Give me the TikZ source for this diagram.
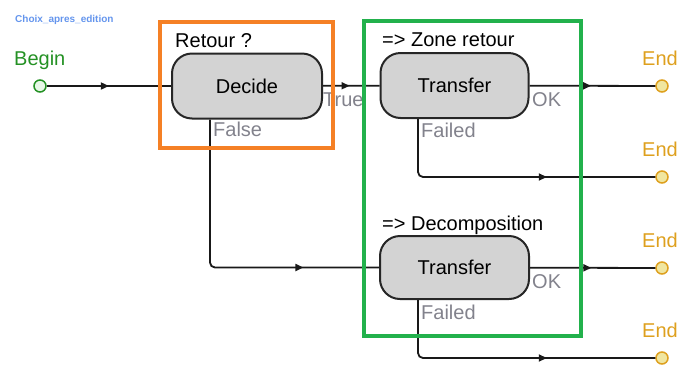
\documentclass[tikz,border=0pt]{standalone}
\usepackage{fontspec}
\setmainfont{Liberation Sans}
\usetikzlibrary{arrows.meta,decorations.markings}
\definecolor{titleblue}{RGB}{100,149,237}
\definecolor{begingreen}{RGB}{36,145,36}
\definecolor{beginfill}{RGB}{232,248,232}
\definecolor{endgold}{RGB}{222,160,30}
\definecolor{endfill}{RGB}{240,230,160}
\definecolor{boxorange}{RGB}{245,128,37}
\definecolor{boxgreen}{RGB}{34,177,76}
\definecolor{lblgray}{RGB}{130,130,140}
\definecolor{nodegray}{RGB}{211,211,211}
\tikzset{
  conn/.style={draw=black!90, line width=1.8pt, rounded corners=5pt, postaction={decorate},
    decoration={markings, mark=at position #1 with {\arrow{Triangle[length=8pt,width=7pt]}}}},
  conn/.default=0.5,
  actbox/.style={draw=black!85, line width=2pt, fill=nodegray, rounded corners=20pt,
    font=\fontsize{20}{24}\selectfont, inner sep=0pt},
  startpt/.style={circle, draw=begingreen, fill=beginfill, line width=1.5pt, minimum size=12pt, inner sep=0pt},
  endpt/.style={circle, draw=endgold, fill=endfill, line width=1.5pt, minimum size=12pt, inner sep=0pt},
  lbl/.style={anchor=base west, inner sep=0pt, font=\fontsize{20}{24}\selectfont},
  grouprect/.style={line width=4pt},
}
\begin{document}
\begin{tikzpicture}[x=1pt,y=-1pt]
\useasboundingbox (0,0) rectangle (678,365);
% title
\node[anchor=base west, inner sep=0pt, font=\fontsize{10}{12}\selectfont\bfseries, text=titleblue] (title) at (15,22.5) {Choix\_apres\_edition};
% begin
\node[lbl, text=begingreen] (beginlbl) at (14,65) {Begin};
\node[startpt] (begin) at (40,86) {};
% nodes
\node[actbox, minimum width=150pt, minimum height=65pt] (decide) at (247,86) {Decide};
\node[actbox, minimum width=148pt, minimum height=65pt] (t1) at (454.5,85.5) {Transfer};
\node[actbox, minimum width=149pt, minimum height=63pt] (t2) at (454.5,267.5) {Transfer};
% group titles
\node[lbl] (rt) at (175,47.5) {Retour ?};
\node[lbl] (zr) at (382,46.7) {=> Zone retour};
\node[lbl] (dc) at (382,230.7) {=> Decomposition};
% ends
\node[endpt] (e1) at (662,86) {};
\node[endpt] (e2) at (662,177) {};
\node[endpt] (e3) at (662,268) {};
\node[endpt] (e4) at (662,358) {};
\node[lbl, text=endgold] (e1l) at (642,65) {End};
\node[lbl, text=endgold] (e2l) at (642,156.5) {End};
\node[lbl, text=endgold] (e3l) at (642,247) {End};
\node[lbl, text=endgold] (e4l) at (642,337) {End};
% port labels
\node[lbl, text=lblgray] (falsel) at (213,136.7) {False};
\node[lbl, text=lblgray] (truel) at (323,106.5) {True};
\node[lbl, text=lblgray] (ok1) at (532,106) {OK};
\node[lbl, text=lblgray] (fail1) at (421,137) {Failed};
\node[lbl, text=lblgray] (ok2) at (532,288) {OK};
\node[lbl, text=lblgray] (fail2) at (421,319) {Failed};
% connectors
\draw[conn=0.5] (begin) -- (decide);
\draw[conn=0.47] (decide) -- (t1);
\draw[conn=0.76] ([xshift=-37pt]decide.south) |- (t2.west);
\draw[conn=0.49] (t1) -- (e1);
\draw[conn=0.63] ([xshift=-36.5pt]t1.south) |- (e2.west);
\draw[conn=0.49] (t2) -- (e3);
\draw[conn=0.63] ([xshift=-36.5pt]t2.south) |- (e4.west);
% group rectangles
\draw[grouprect, draw=boxorange] (160,22) rectangle (333,148);
\draw[grouprect, draw=boxgreen] (364,21) rectangle (581,336);
\end{tikzpicture}
\end{document}
